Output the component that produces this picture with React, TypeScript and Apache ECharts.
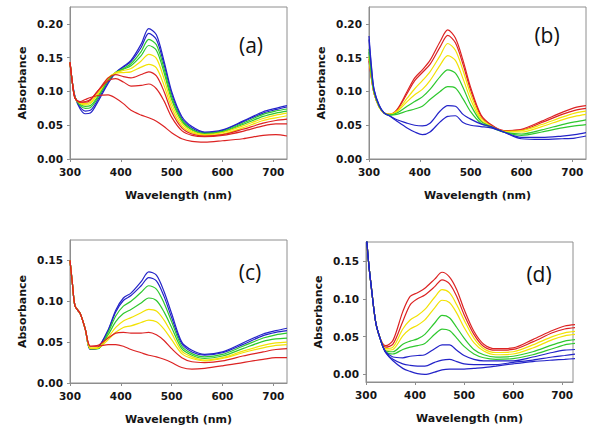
import React, { useEffect, useRef } from "react";
import * as echarts from "echarts";

// Wavelength sample points (nm)
const WL = [300, 305, 310, 320, 330, 340, 355, 375, 390, 405, 420, 440, 455, 470, 485, 500, 520, 540, 565, 600, 640, 680, 705, 727];

const X_TICKS = [300, 400, 500, 600, 700];
const Y_TICKS_AB = [0, 0.05, 0.1, 0.15, 0.2];
const Y_TICKS_CD = [0, 0.05, 0.1, 0.15];

// Panel (a)
const A_B1 = [.143, .112, .092, .074, .067, .068, .085, .112, .128, .137, .146, .170, .193, .184, .145, .100, .063, .048, .040, .043, .056, .070, .075, .079];
const A_B2 = [.143, .112, .092, .077, .071, .072, .088, .114, .128, .136, .144, .165, .186, .177, .140, .096, .060, .046, .039, .042, .055, .068, .073, .077];
const A_G1 = [.143, .111, .091, .079, .075, .076, .091, .116, .128, .134, .141, .159, .177, .169, .134, .092, .058, .044, .038, .041, .053, .066, .071, .074];
const A_G2 = [.143, .111, .091, .081, .078, .079, .093, .117, .128, .133, .138, .153, .168, .161, .128, .088, .056, .043, .037, .040, .051, .063, .068, .071];
const A_Y1 = [.143, .111, .090, .082, .080, .082, .096, .119, .128, .131, .134, .145, .155, .149, .119, .082, .053, .041, .036, .039, .049, .060, .065, .068];
const A_Y2 = [.143, .111, .090, .083, .082, .084, .098, .120, .127, .128, .129, .136, .140, .135, .109, .076, .049, .039, .035, .037, .046, .057, .061, .064];
const A_R1 = [.143, .111, .090, .084, .084, .087, .101, .120, .125, .122, .120, .125, .129, .123, .100, .070, .046, .037, .034, .036, .044, .053, .057, .059];
const A_R2 = [.143, .111, .090, .084, .085, .088, .101, .116, .119, .114, .108, .109, .111, .104, .086, .062, .042, .035, .033, .035, .041, .049, .052, .052];
const A_R3 = [.143, .111, .090, .085, .088, .091, .094, .095, .090, .082, .072, .065, .061, .056, .048, .039, .030, .026, .025, .027, .030, .035, .036, .034];

// Panel (b)
const B_R1 = [.145, .118, .097, .077, .068, .066, .073, .100, .120, .132, .146, .174, .191, .179, .146, .106, .066, .051, .042, .044, .056, .069, .076, .079];
const B_R2 = [.148, .119, .097, .077, .068, .066, .072, .097, .116, .128, .140, .166, .183, .172, .140, .102, .064, .050, .042, .043, .054, .066, .072, .075];
const B_Y1 = [.150, .120, .098, .077, .068, .066, .071, .090, .104, .116, .129, .153, .171, .161, .131, .096, .061, .049, .041, .042, .051, .062, .068, .071];
const B_Y2 = [.153, .121, .098, .077, .068, .066, .070, .085, .095, .103, .116, .139, .153, .146, .119, .088, .058, .048, .041, .040, .048, .058, .063, .066];
const B_G1 = [.158, .123, .099, .078, .068, .065, .068, .078, .085, .092, .103, .122, .132, .127, .106, .080, .056, .048, .040, .037, .043, .051, .055, .058];
const B_G2 = [.163, .125, .100, .078, .068, .065, .066, .071, .074, .078, .088, .100, .107, .105, .089, .070, .053, .047, .040, .035, .040, .046, .049, .051];
const B_B1 = [.177, .133, .102, .079, .068, .064, .058, .053, .050, .049, .053, .071, .079, .078, .066, .059, .052, .048, .040, .032, .032, .034, .036, .039];
const B_B2 = [.182, .136, .103, .080, .068, .064, .056, .046, .040, .036, .040, .055, .063, .064, .054, .050, .048, .046, .040, .030, .029, .030, .031, .034];

// Panel (c)
const C_B1 = [.150, .120, .094, .085, .066, .041, .043, .065, .089, .104, .110, .124, .136, .132, .112, .085, .050, .040, .035, .038, .049, .060, .064, .067];
const C_B2 = [.150, .120, .094, .085, .066, .041, .043, .064, .087, .101, .107, .119, .129, .125, .106, .080, .048, .038, .034, .037, .047, .058, .062, .064];
const C_G1 = [.150, .120, .094, .085, .066, .042, .042, .062, .082, .094, .100, .111, .119, .115, .098, .075, .045, .036, .032, .035, .045, .055, .059, .061];
const C_G2 = [.150, .120, .094, .085, .066, .042, .042, .059, .075, .085, .090, .098, .104, .101, .087, .068, .042, .034, .030, .033, .042, .051, .054, .055];
const C_Y1 = [.150, .120, .094, .085, .066, .042, .043, .056, .068, .076, .080, .086, .090, .088, .077, .061, .039, .032, .028, .031, .039, .046, .049, .050];
const C_Y2 = [.150, .120, .094, .085, .066, .043, .043, .053, .062, .068, .070, .074, .077, .075, .066, .053, .036, .030, .027, .030, .037, .043, .046, .047];
const C_R1 = [.150, .120, .094, .085, .066, .045, .046, .055, .061, .062, .061, .061, .062, .059, .052, .042, .031, .026, .025, .027, .033, .038, .041, .042];
const C_R2 = [.150, .120, .094, .085, .066, .045, .045, .047, .047, .045, .041, .037, .034, .032, .029, .025, .019, .017, .018, .021, .025, .029, .031, .031];

// Panel (d)
const D_R1 = [.19, .150, .120, .068, .046, .038, .045, .083, .103, .108, .114, .126, .135, .129, .112, .086, .057, .040, .034, .035, .046, .058, .064, .066];
const D_R2 = [.19, .150, .120, .068, .046, .036, .040, .070, .092, .100, .105, .116, .125, .120, .103, .079, .053, .037, .032, .033, .043, .055, .060, .062];
const D_Y1 = [.19, .150, .120, .068, .046, .034, .036, .060, .072, .078, .086, .102, .112, .108, .092, .072, .048, .034, .029, .030, .039, .050, .055, .057];
const D_Y2 = [.19, .150, .120, .068, .045, .032, .033, .051, .060, .065, .072, .088, .098, .095, .081, .062, .042, .031, .026, .027, .035, .046, .051, .053];
const D_G1 = [.19, .150, .120, .068, .045, .031, .030, .040, .044, .047, .053, .068, .078, .075, .062, .048, .033, .026, .023, .024, .030, .039, .044, .046];
const D_G2 = [.19, .150, .120, .068, .045, .030, .027, .033, .036, .038, .041, .053, .060, .058, .048, .037, .027, .022, .020, .021, .026, .034, .039, .041];
const D_B1 = [.19, .150, .120, .068, .045, .030, .023, .022, .024, .025, .026, .034, .039, .039, .032, .025, .020, .018, .018, .018, .023, .029, .032, .033];
const D_B2 = [.19, .150, .120, .068, .045, .029, .020, .014, .012, .011, .011, .016, .019, .020, .017, .014, .013, .013, .013, .016, .019, .023, .025, .027];
const D_B3 = [.19, .150, .120, .068, .045, .029, .018, .008, .004, .001, .000, .003, .006, .007, .007, .007, .008, .009, .011, .014, .017, .019, .020, .021];

const COLORS: Record<string, string> = {
  blue: "#2323c8",
  green: "#2ec82e",
  yellow: "#f2e205",
  red: "#dc2323",
};

const PANELS = [
  {
    label: "(a)", lx: 251, ly: 45,
    grid: { left: 70, top: 7, width: 217, height: 152 },
    xmax: 727, ymin: 0, ymax: 0.225, yticks: Y_TICKS_AB,
    series: [[A_B1, "blue"], [A_B2, "blue"], [A_G1, "green"], [A_G2, "green"], [A_Y1, "yellow"], [A_Y2, "yellow"], [A_R1, "red"], [A_R2, "red"], [A_R3, "red"]],
  },
  {
    label: "(b)", lx: 547, ly: 35,
    grid: { left: 369, top: 7, width: 217, height: 152 },
    xmax: 727, ymin: 0, ymax: 0.225, yticks: Y_TICKS_AB,
    series: [[B_R1, "red"], [B_R2, "red"], [B_Y1, "yellow"], [B_Y2, "yellow"], [B_G1, "green"], [B_G2, "green"], [B_B1, "blue"], [B_B2, "blue"]],
  },
  {
    label: "(c)", lx: 250, ly: 272,
    grid: { left: 70, top: 240, width: 217, height: 143 },
    xmax: 727, ymin: 0, ymax: 0.175, yticks: Y_TICKS_CD,
    series: [[C_B1, "blue"], [C_B2, "blue"], [C_G1, "green"], [C_G2, "green"], [C_Y1, "yellow"], [C_Y2, "yellow"], [C_R1, "red"], [C_R2, "red"]],
  },
  {
    label: "(d)", lx: 539, ly: 274,
    grid: { left: 366, top: 242, width: 207, height: 140 },
    xmax: 722, ymin: -0.01, ymax: 0.175, yticks: Y_TICKS_CD,
    series: [[D_R1, "red"], [D_R2, "red"], [D_Y1, "yellow"], [D_Y2, "yellow"], [D_G1, "green"], [D_G2, "green"], [D_B1, "blue"], [D_B2, "blue"], [D_B3, "blue"]],
  },
];

const FRAME = "#8e8e8e";
const TEXT = "#151515";

export default function App() {
  const ref = useRef<HTMLDivElement>(null);
  useEffect(() => {
    if (!ref.current) return;
    const chart = echarts.init(ref.current, undefined, { renderer: "svg" });
    const grids: any[] = [];
    const xAxes: any[] = [];
    const yAxes: any[] = [];
    const series: any[] = [];
    const graphics: any[] = [];
    PANELS.forEach((p, i) => {
      grids.push({ ...p.grid, show: true, borderColor: FRAME, borderWidth: 1, backgroundColor: "transparent" });
      xAxes.push({
        type: "value", gridIndex: i, min: 300, max: p.xmax,
        name: "Wavelength (nm)", nameLocation: "middle", nameGap: 31,
        nameTextStyle: { fontFamily: "DejaVu Sans", fontWeight: "bold", fontSize: 11, color: TEXT },
        axisLine: { show: true, onZero: false, lineStyle: { color: FRAME, width: 1 } },
        axisTick: { show: true, length: 3, customValues: X_TICKS, lineStyle: { color: FRAME } },
        axisLabel: { customValues: X_TICKS, margin: 7, fontFamily: "DejaVu Sans", fontWeight: "bold", fontSize: 10.5, color: TEXT },
        splitLine: { show: false },
      });
      yAxes.push({
        type: "value", gridIndex: i, min: p.ymin, max: p.ymax,
        name: "Absorbance", nameLocation: "middle", nameGap: 42, nameRotate: 90,
        nameTextStyle: { fontFamily: "DejaVu Sans", fontWeight: "bold", fontSize: 11, color: TEXT },
        axisLine: { show: true, onZero: false, lineStyle: { color: FRAME, width: 1 } },
        axisTick: { show: true, length: 3, customValues: p.yticks, lineStyle: { color: FRAME } },
        axisLabel: {
          customValues: p.yticks, margin: 7, fontFamily: "DejaVu Sans", fontWeight: "bold", fontSize: 10.5, color: TEXT,
          formatter: (v: number) => v.toFixed(2),
        },
        splitLine: { show: false },
      });
      p.series.forEach(([vals, col]: any) => {
        series.push({
          type: "line", xAxisIndex: i, yAxisIndex: i, showSymbol: false, symbol: "none",
          smooth: 0.3, clip: true, silent: true,
          lineStyle: { width: 1.2, color: COLORS[col] },
          data: WL.map((w, k) => [w, vals[k]]),
        });
      });
      graphics.push({
        type: "text", x: p.lx, y: p.ly,
        style: { text: p.label, fontFamily: "Open Sans", fontSize: 21, fill: "#111", align: "center", verticalAlign: "middle" },
      });
    });
    chart.setOption({
      animation: false,
      backgroundColor: "#ffffff",
      grid: grids,
      xAxis: xAxes,
      yAxis: yAxes,
      series,
      graphic: graphics,
    });
    return () => chart.dispose();
  }, []);
  return <div ref={ref} style={{ position: "absolute", left: 0, top: 0, width: 600, height: 434 }} />;
}
